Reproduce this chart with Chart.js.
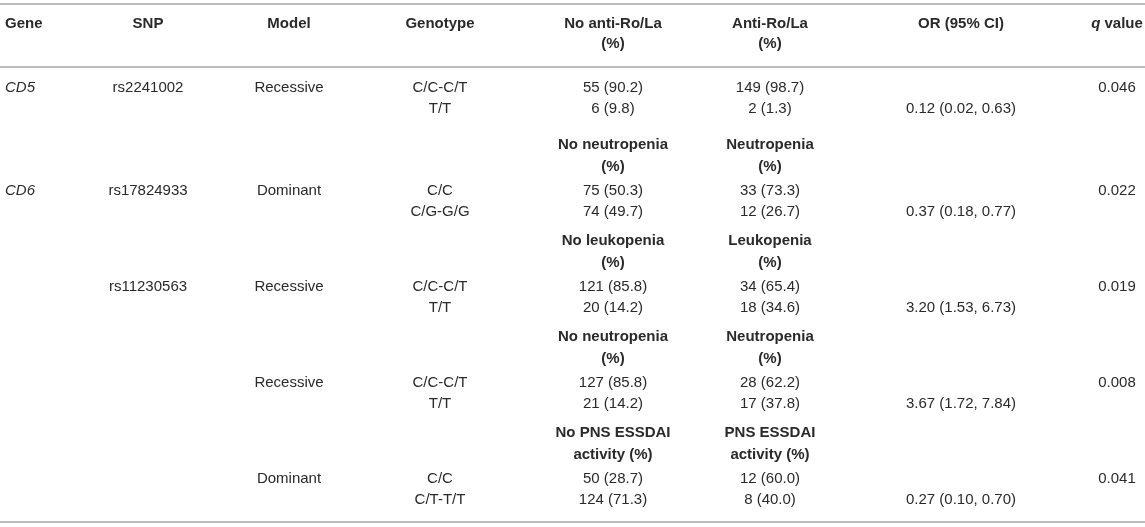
<!DOCTYPE html>
<html>
<head>
<meta charset="utf-8">
<script src="https://cdn.jsdelivr.net/npm/chart.js@4/dist/chart.umd.min.js"></script>
<style>
html,body{margin:0;padding:0;background:#ffffff;}
#wrap{width:1145px;height:527px;position:relative;}
</style>
</head>
<body>
<div id="wrap"><canvas id="c"></canvas></div>
<script>
// ---------- DATA ----------
const headers = ["Gene", "SNP", "Model", "Genotype", "No anti-Ro/La|(%)", "Anti-Ro/La|(%)", "OR (95% CI)", "q value"];
const genes = ["CD5", "CD6", "", "", ""];
const snps = ["rs2241002", "rs17824933", "rs11230563", "", ""];
const models = ["Recessive", "Dominant", "Recessive", "Recessive", "Dominant"];
const genotypes = [["C/C-C/T", "T/T"], ["C/C", "C/G-G/G"], ["C/C-C/T", "T/T"], ["C/C-C/T", "T/T"], ["C/C", "C/T-T/T"]];
const groupNoLabels = ["", "No neutropenia|(%)", "No leukopenia|(%)", "No neutropenia|(%)", "No PNS ESSDAI|activity (%)"];
const groupYesLabels = ["", "Neutropenia|(%)", "Leukopenia|(%)", "Neutropenia|(%)", "PNS ESSDAI|activity (%)"];
const countsNo = [[55, 6], [75, 74], [121, 20], [127, 21], [50, 124]];
const pctNo = [[90.2, 9.8], [50.3, 49.7], [85.8, 14.2], [85.8, 14.2], [28.7, 71.3]];
const countsYes = [[149, 2], [33, 12], [34, 18], [28, 17], [12, 8]];
const pctYes = [[98.7, 1.3], [73.3, 26.7], [65.4, 34.6], [62.2, 37.8], [60.0, 40.0]];
const orValues = [0.12, 0.37, 3.20, 3.67, 0.27];
const ciLow = [0.02, 0.18, 1.53, 1.72, 0.10];
const ciHigh = [0.63, 0.77, 6.73, 7.84, 0.70];
const qValues = [0.046, 0.022, 0.019, 0.008, 0.041];

// ---------- LAYOUT (design units of the scales) ----------
const W = 1145, H = 527;
const colX = [5, 148, 289, 440, 613, 770, 961, 1117];
const colAlign = ["left", "center", "center", "center", "center", "center", "center", "center"];
const headerLineY = [24, 44];
const subHeaderY = [null, [145, 167], [241, 263], [337, 359], [433, 455]];
const dataLineY = [[88, 109], [191, 212], [287, 308], [383, 404], [479, 500]];
const ruleY = [4, 67, 522];

const FONT = '"Liberation Sans", Arial, Helvetica, sans-serif';
const SIZE = 15;
const TEXT_COLOR = "#2a2a2a";
const RULE_COLOR = "#bcbcbc";

// ---------- BUILD CELLS ----------
const cells = [];
function addCell(col, y, text, opts) {
  cells.push(Object.assign({ x: colX[col], y: y, text: text, align: colAlign[col], bold: false, italic: false }, opts || {}));
}
function addMulti(col, ys, label, opts) {
  label.split("|").forEach((t, i) => addCell(col, ys[i], t, opts));
}
headers.forEach((h, c) => {
  if (h === "q value") {
    addCell(c, headerLineY[0], h, { bold: true, qHeader: true });
  } else {
    addMulti(c, headerLineY, h, { bold: true });
  }
});
const fmt1 = v => v.toFixed(1);
const fmt2 = v => v.toFixed(2);
for (let g = 0; g < genes.length; g++) {
  const dy = dataLineY[g];
  if (subHeaderY[g]) {
    addMulti(4, subHeaderY[g], groupNoLabels[g], { bold: true });
    addMulti(5, subHeaderY[g], groupYesLabels[g], { bold: true });
  }
  if (genes[g]) addCell(0, dy[0], genes[g], { italic: true });
  if (snps[g]) addCell(1, dy[0], snps[g]);
  addCell(2, dy[0], models[g]);
  for (let r = 0; r < 2; r++) {
    addCell(3, dy[r], genotypes[g][r]);
    addCell(4, dy[r], countsNo[g][r] + " (" + fmt1(pctNo[g][r]) + ")");
    addCell(5, dy[r], countsYes[g][r] + " (" + fmt1(pctYes[g][r]) + ")");
  }
  addCell(6, dy[1], fmt2(orValues[g]) + " (" + fmt2(ciLow[g]) + ", " + fmt2(ciHigh[g]) + ")");
  addCell(7, dy[0], qValues[g].toFixed(3));
}

const ruleDatasets = ruleY.map(y => ({
  type: "line",
  data: [{ x: 0, y: y }, { x: W, y: y }],
  borderColor: RULE_COLOR,
  borderWidth: 2,
  pointRadius: 0,
  fill: false,
  order: 2
}));

const textPlugin = {
  id: "cellText",
  afterDatasetsDraw(chart) {
    const ctx = chart.ctx;
    const meta = chart.getDatasetMeta(0);
    ctx.save();
    ctx.fillStyle = TEXT_COLOR;
    ctx.textBaseline = "middle";
    meta.data.forEach((el, i) => {
      const c = cells[i];
      const px = el.x, py = el.y;
      if (c.qHeader) {
        const f1 = "italic bold " + SIZE + "px " + FONT;
        const f2 = "bold " + SIZE + "px " + FONT;
        ctx.font = f1; const w1 = ctx.measureText("q").width;
        ctx.font = f2; const w2 = ctx.measureText(" value").width;
        let sx = px - (w1 + w2) / 2;
        ctx.textAlign = "left";
        ctx.font = f1; ctx.fillText("q", sx, py);
        ctx.font = f2; ctx.fillText(" value", sx + w1, py);
        return;
      }
      ctx.font = (c.italic ? "italic " : "") + (c.bold ? "bold " : "") + SIZE + "px " + FONT;
      ctx.textAlign = c.align;
      ctx.fillText(c.text, px, py);
    });
    ctx.restore();
  }
};

const canvas = document.getElementById("c");
new Chart(canvas, {
  type: "scatter",
  data: {
    datasets: [
      { data: cells.map(c => ({ x: c.x, y: c.y })), pointRadius: 0, pointHoverRadius: 0, order: 1 }
    ].concat(ruleDatasets)
  },
  options: {
    responsive: true,
    maintainAspectRatio: false,
    animation: false,
    events: [],
    layout: { padding: 0 },
    plugins: { legend: { display: false }, tooltip: { enabled: false } },
    scales: {
      x: { type: "linear", min: 0, max: W, display: false },
      y: { type: "linear", min: 0, max: H, reverse: true, display: false }
    }
  },
  plugins: [textPlugin]
});
</script>
</body>
</html>
